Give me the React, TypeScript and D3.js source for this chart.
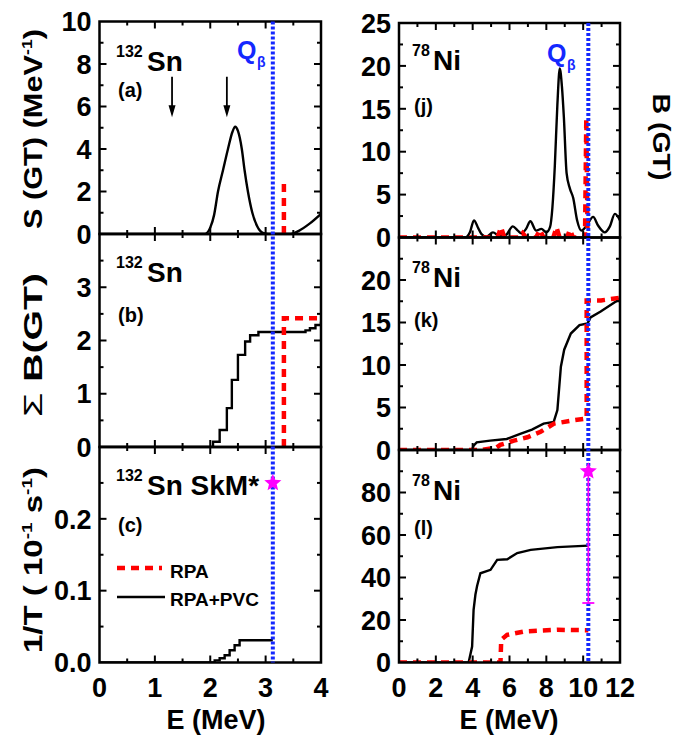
import React from 'react';
import * as d3 from 'd3';

// Q-beta values (MeV)
const qSn = 3.13;
const qNi = 10.28;

// tick labels
const snETicks = [0, 1, 2, 3, 4];
const niETicks = [0, 2, 4, 6, 8, 10, 12];
const aTicks = [0, 2, 4, 6, 8, 10];
const bTicks = [0, 1, 2, 3, 4];
const bLabels = [0, 1, 2, 3];
const cTicks = [0, 0.1, 0.2, 0.3];
const cLabels = [0, 0.1, 0.2];
const jTicks = [0, 5, 10, 15, 20, 25];
const kTicks = [0, 5, 10, 15, 20, 25];
const kLabels = [0, 5, 10, 15, 20];
const lTicks = [0, 20, 40, 60, 80, 100];
const lLabels = [0, 20, 40, 60, 80];

type P = [number, number];

// (a) 132Sn strength function
const snStrPVC: P[] = [[0, 0], [1.9, 0], [2.0, 0.3], [2.07, 0.9], [2.14, 2.0], [2.23, 3.0], [2.32, 4.0], [2.4, 4.8], [2.45, 5.05], [2.5, 4.85], [2.57, 4.0], [2.62, 3.0], [2.68, 2.0], [2.76, 1.0], [2.85, 0.35], [2.95, 0.05], [3.05, 0], [3.45, 0], [3.6, 0.15], [3.8, 0.5], [4.0, 0.95]];
const snStrRPA: P[] = [[3.33, 0], [3.33, 2.45]];
// arrows marking experimental states (energy, top, tip)
const snArrowE = [1.31, 2.3];
const snArrowTop = 7.4;
const snArrowTip = 5.5;

// (b) 132Sn cumulative B(GT)
const snCumPVC: P[] = [[0, 0], [2.05, 0.1], [2.17, 0.32], [2.3, 0.73], [2.39, 1.26], [2.5, 1.73], [2.63, 1.98], [2.72, 2.1], [2.87, 2.16], [3.63, 2.16], [3.72, 2.19], [3.8, 2.23], [3.9, 2.29], [4.0, 2.35]];
const snCumRPA: P[] = [[3.33, 0], [3.33, 2.42], [4.0, 2.42]];

// (c) 132Sn inverse half-life
const snRatePVC: P[] = [[0, 0], [1.99, 0], [2.08, 0.003], [2.17, 0.006], [2.26, 0.01], [2.35, 0.017], [2.44, 0.024], [2.53, 0.031], [qSn, 0.031]];
const snRateExp: P = [qSn, 0.25];

// (j) 78Ni strength
const niStrPVC: P[] = [[0, 0], [3.6, 0], [3.85, 0.6], [4.07, 2.0], [4.3, 1.1], [4.48, 0.4], [4.75, 0.1], [5.1, 0.6], [5.45, 0.2], [5.8, 0.3], [6.18, 1.3], [6.45, 0.8], [6.64, 0.5], [6.9, 1.0], [7.13, 1.9], [7.45, 0.8], [7.73, 1.0], [8.0, 0.6], [8.2, 1.2], [8.33, 3.5], [8.46, 8.3], [8.6, 15.5], [8.73, 19.7], [8.85, 17.5], [8.95, 14.1], [9.1, 7.5], [9.28, 5.7], [9.46, 4.6], [9.67, 2.0], [9.9, 0.8], [10.17, 1.3], [10.54, 2.4], [10.81, 1.4], [11.17, 0.6], [11.45, 1.3], [11.72, 2.75], [12.0, 2.0]];
const niStrRPA: P[] = [[0, 0], [5.35, 0], [5.54, 1.2], [5.72, 0], [6.55, 0], [6.72, 0.5], [6.9, 0], [7.45, 0], [7.64, 0.9], [7.85, 0], [8.38, 0], [8.55, 1.2], [8.72, 0], [9.12, 0], [9.28, 0.9], [9.45, 0], [10.1, 0], [10.17, 13.9], [10.24, 0]];

// (k) 78Ni cumulative B(GT)
const niCumPVC: P[] = [[0, 0], [3.97, 0], [4.05, 0.5], [4.22, 0.9], [4.95, 1.1], [5.85, 1.3], [6.58, 1.9], [7.22, 2.4], [7.85, 3.1], [8.4, 3.3], [8.6, 4.7], [8.79, 9.8], [8.97, 11.8], [9.33, 13.7], [9.8, 14.7], [10.24, 14.9], [10.4, 15.6], [10.95, 16.3], [11.86, 17.6], [12, 17.8]];
const niCumRPA: P[] = [[0, 0], [4.5, 0], [5.3, 0.3], [5.5, 0.6], [6.24, 1.1], [6.97, 1.5], [7.69, 2.15], [8.42, 3.1], [9.51, 3.5], [10.19, 3.7], [10.19, 17.6], [10.97, 17.6], [12, 17.9]];

// (l) 78Ni inverse half-life
const niRatePVC: P[] = [[0, 0], [3.78, 0], [3.97, 7.5], [4.05, 24.8], [4.15, 32], [4.24, 36], [4.42, 42], [4.97, 43.6], [5.33, 48.3], [5.88, 48.6], [6.42, 51.5], [7.15, 53], [8.6, 54.3], [qNi, 55]];
const niRateRPA: P[] = [[0, 0], [5.51, 0], [5.55, 10.7], [5.87, 13], [6.78, 14.6], [8.6, 15.4], [qNi, 15.2]];
const niRateExp: P = [qNi, 90];
const niRateExpLow = 28;

const FONT = '"Liberation Sans", Arial, sans-serif';
const RED = '#ff0000';
const BLUE = '#1428ff';
const MAGENTA = '#ff00ff';

interface Series { data: P[]; kind: 'pvc' | 'rpa'; curve?: d3.CurveFactory }
interface Panel {
  x0: number; x1: number; y0: number; y1: number;
  xDom: [number, number]; yDom: [number, number];
  xTicks: number[]; yTicks: number[]; yLabels: number[]; yFmt: (v: number) => string;
  showX: boolean; series: Series[];
}

const L = { x0: 99.5, x1: 321 };
const R = { x0: 399, x1: 620 };

const panels: Panel[] = [
  { ...L, y0: 21.5, y1: 234, xDom: [0, 4], yDom: [0, 10], xTicks: snETicks, yTicks: aTicks, yLabels: aTicks, yFmt: d3.format('d'), showX: false,
    series: [{ data: snStrPVC, kind: 'pvc', curve: d3.curveMonotoneX }, { data: snStrRPA, kind: 'rpa' }] },
  { ...L, y0: 234, y1: 447, xDom: [0, 4], yDom: [0, 4], xTicks: snETicks, yTicks: bTicks, yLabels: bLabels, yFmt: d3.format('d'), showX: false,
    series: [{ data: snCumPVC, kind: 'pvc', curve: d3.curveStepAfter }, { data: snCumRPA, kind: 'rpa' }] },
  { ...L, y0: 447, y1: 662.5, xDom: [0, 4], yDom: [0, 0.3], xTicks: snETicks, yTicks: cTicks, yLabels: cLabels, yFmt: d3.format('.1f'), showX: true,
    series: [{ data: snRatePVC, kind: 'pvc', curve: d3.curveStepAfter }] },
  { ...R, y0: 23, y1: 237.5, xDom: [0, 12], yDom: [0, 25], xTicks: niETicks, yTicks: jTicks, yLabels: jTicks, yFmt: d3.format('d'), showX: false,
    series: [{ data: niStrPVC, kind: 'pvc', curve: d3.curveMonotoneX }, { data: niStrRPA, kind: 'rpa' }] },
  { ...R, y0: 237.5, y1: 450, xDom: [0, 12], yDom: [0, 25], xTicks: niETicks, yTicks: kTicks, yLabels: kLabels, yFmt: d3.format('d'), showX: false,
    series: [{ data: niCumPVC, kind: 'pvc' }, { data: niCumRPA, kind: 'rpa' }] },
  { ...R, y0: 450, y1: 662.5, xDom: [0, 12], yDom: [0, 100], xTicks: niETicks, yTicks: lTicks, yLabels: lLabels, yFmt: d3.format('d'), showX: true,
    series: [{ data: niRatePVC, kind: 'pvc' }, { data: niRateRPA, kind: 'rpa' }] },
];

function mids(t: number[]) {
  const out: number[] = [];
  for (let i = 0; i < t.length - 1; i++) out.push((t[i] + t[i + 1]) / 2);
  return out;
}

function star(cx: number, cy: number, r: number) {
  const pts: string[] = [];
  for (let i = 0; i < 10; i++) {
    const a = -Math.PI / 2 + (i * Math.PI) / 5;
    const rr = i % 2 === 0 ? r : r * 0.45;
    pts.push(`${cx + rr * Math.cos(a)},${cy + rr * Math.sin(a)}`);
  }
  return pts.join(' ');
}

function PanelView({ p }: { p: Panel }) {
  const x = d3.scaleLinear().domain(p.xDom).range([p.x0, p.x1]);
  const y = d3.scaleLinear().domain(p.yDom).range([p.y1, p.y0]);
  const maj = 7, min = 4;
  const xMin = mids(p.xTicks), yMin = mids(p.yTicks);
  const tk = (k: string, x1: number, y1: number, x2: number, y2: number) => (
    <line key={k} x1={x1} y1={y1} x2={x2} y2={y2} stroke="#000" strokeWidth={2} />
  );
  const ticks: React.ReactNode[] = [];
  p.xTicks.forEach((v, i) => {
    if (v === p.xDom[0] || v === p.xDom[1]) return;
    ticks.push(tk('xb' + i, x(v), p.y1, x(v), p.y1 - maj), tk('xt' + i, x(v), p.y0, x(v), p.y0 + maj));
  });
  xMin.forEach((v, i) => ticks.push(tk('xbm' + i, x(v), p.y1, x(v), p.y1 - min), tk('xtm' + i, x(v), p.y0, x(v), p.y0 + min)));
  p.yTicks.forEach((v, i) => {
    if (v === p.yDom[0] || v === p.yDom[1]) return;
    ticks.push(tk('yl' + i, p.x0, y(v), p.x0 + maj, y(v)), tk('yr' + i, p.x1, y(v), p.x1 - maj, y(v)));
  });
  yMin.forEach((v, i) => ticks.push(tk('ylm' + i, p.x0, y(v), p.x0 + min, y(v)), tk('yrm' + i, p.x1, y(v), p.x1 - min, y(v))));

  return (
    <g>
      <defs>
        <clipPath id={`clip${p.x0}${p.y0}`}>
          <rect x={p.x0} y={p.y0 - 3} width={p.x1 - p.x0} height={p.y1 - p.y0 + 3} />
        </clipPath>
      </defs>
      <g clipPath={`url(#clip${p.x0}${p.y0})`}>
        {p.series.map((s, i) => {
          const line = d3.line<P>().x(d => x(d[0])).y(d => y(d[1])).curve(s.curve || d3.curveLinear);
          return s.kind === 'pvc'
            ? <path key={i} d={line(s.data) || ''} fill="none" stroke="#000" strokeWidth={2.4} />
            : <path key={i} d={line(s.data) || ''} fill="none" stroke={RED} strokeWidth={4.5} strokeDasharray="8,6" />;
        })}
      </g>
      <rect x={p.x0} y={p.y0} width={p.x1 - p.x0} height={p.y1 - p.y0} fill="none" stroke="#000" strokeWidth={2.5} />
      {ticks}
      {p.yLabels.map((v, i) => (
        <text key={'yt' + i} x={p.x0 - 8} y={y(v)} dy="0.36em" textAnchor="end" fontSize={27} fontWeight="bold">{p.yFmt(v)}</text>
      ))}
      {p.showX && p.xTicks.map((v, i) => (
        <text key={'xt' + i} x={x(v)} y={697} textAnchor="middle" fontSize={27} fontWeight="bold">{v}</text>
      ))}
    </g>
  );
}

export default function App() {
  const sx = d3.scaleLinear().domain([0, 4]).range([L.x0, L.x1]);
  const nx = d3.scaleLinear().domain([0, 12]).range([R.x0, R.x1]);
  const ay = d3.scaleLinear().domain([0, 10]).range([234, 21.5]);
  const cy = d3.scaleLinear().domain([0, 0.3]).range([662.5, 447]);
  const ly = d3.scaleLinear().domain([0, 100]).range([662.5, 450]);
  const lx = sx(qSn), rx = nx(qNi);
  return (
    <svg width={677} height={745} style={{ position: 'absolute', left: 0, top: 0, background: '#fff' }} fontFamily={FONT}>
      <rect width={677} height={745} fill="#fff" />
      {panels.map((p, i) => <PanelView key={i} p={p} />)}

      {/* arrows in (a) */}
      {snArrowE.map((e, i) => {
        const ax = sx(e), top = ay(snArrowTop), tip = ay(snArrowTip);
        return (
          <g key={'arr' + i}>
            <line x1={ax} x2={ax} y1={top} y2={tip - 8} stroke="#000" strokeWidth={1.8} />
            <polygon points={`${ax - 3.5},${tip - 12} ${ax + 3.5},${tip - 12} ${ax},${tip}`} fill="#000" />
          </g>
        );
      })}

      {/* Q-beta lines */}
      <line x1={lx} x2={lx} y1={21.5} y2={662.5} stroke={BLUE} strokeWidth={4} strokeDasharray="3,2" />
      <line x1={rx} x2={rx} y1={23} y2={662.5} stroke={BLUE} strokeWidth={4} strokeDasharray="3,2" />

      {/* experimental points */}
      <line x1={rx} x2={rx} y1={ly(niRateExpLow)} y2={ly(niRateExp[1])} stroke={MAGENTA} strokeWidth={1.8} />
      <line x1={rx - 6} x2={rx + 6} y1={ly(niRateExpLow)} y2={ly(niRateExpLow)} stroke={MAGENTA} strokeWidth={1.8} />
      <polygon points={star(nx(niRateExp[0]), ly(niRateExp[1]), 9)} fill={MAGENTA} />
      <polygon points={star(sx(snRateExp[0]), cy(snRateExp[1]), 9)} fill={MAGENTA} />

      {/* panel annotations */}
      <g fontWeight="bold" fill="#000">
        <text x={116} y={57} fontSize={16}>132</text>
        <text x={147} y={71} fontSize={28}>Sn</text>
        <text x={118} y={97} fontSize={20}>(a)</text>
        <text x={116} y={268} fontSize={16}>132</text>
        <text x={147} y={282} fontSize={28}>Sn</text>
        <text x={118} y={322} fontSize={20}>(b)</text>
        <text x={116} y={481} fontSize={16}>132</text>
        <text x={147} y={495} fontSize={28}>Sn SkM*</text>
        <text x={118} y={532} fontSize={20}>(c)</text>

        <text x={412} y={56} fontSize={16}>78</text>
        <text x={433} y={70} fontSize={28}>Ni</text>
        <text x={414} y={113} fontSize={20}>(j)</text>
        <text x={412} y={273} fontSize={16}>78</text>
        <text x={433} y={287} fontSize={28}>Ni</text>
        <text x={414} y={327} fontSize={20}>(k)</text>
        <text x={412} y={486} fontSize={16}>78</text>
        <text x={433} y={500} fontSize={28}>Ni</text>
        <text x={414} y={535} fontSize={20}>(l)</text>
      </g>
      <g fontWeight="bold" fill={BLUE}>
        <text x={237} y={59} fontSize={25}>Q</text>
        <text x={257} y={67} fontSize={14}>β</text>
        <text x={547} y={62} fontSize={25}>Q</text>
        <text x={567} y={70} fontSize={14}>β</text>
      </g>

      {/* legend */}
      <line x1={117} x2={162} y1={568} y2={568} stroke={RED} strokeWidth={4.5} strokeDasharray="8,6" />
      <text x={170} y={578} fontSize={19} fontWeight="bold">RPA</text>
      <line x1={117} x2={165} y1={597} y2={597} stroke="#000" strokeWidth={2.4} />
      <text x={170} y={606} fontSize={19} fontWeight="bold">RPA+PVC</text>

      {/* axis titles */}
      <g fontWeight="bold">
        <text transform="translate(42,129) rotate(-90)" textAnchor="middle" fontSize={26} textLength={200} lengthAdjust="spacingAndGlyphs">
          S (GT) (MeV<tspan fontSize={15} dy={-10}>-1</tspan><tspan dy={10}>)</tspan>
        </text>
        <text transform="translate(42,345) rotate(-90)" textAnchor="middle" fontSize={26} textLength={144} lengthAdjust="spacingAndGlyphs">
          <tspan fontWeight="normal">Σ</tspan> B(GT)
        </text>
        <text transform="translate(42,560) rotate(-90)" textAnchor="middle" fontSize={26} textLength={186} lengthAdjust="spacingAndGlyphs">
          1/T ( 10<tspan fontSize={15} dy={-10}>-1</tspan><tspan dy={10}> s</tspan><tspan fontSize={15} dy={-10}>-1</tspan><tspan dy={10}>)</tspan>
        </text>
        <text transform="translate(653,137) rotate(90)" textAnchor="middle" fontSize={23} textLength={87} lengthAdjust="spacingAndGlyphs">B (GT)</text>
        <text x={216} y={729} textAnchor="middle" fontSize={27}>E (MeV)</text>
        <text x={509} y={729} textAnchor="middle" fontSize={27}>E (MeV)</text>
      </g>
    </svg>
  );
}
